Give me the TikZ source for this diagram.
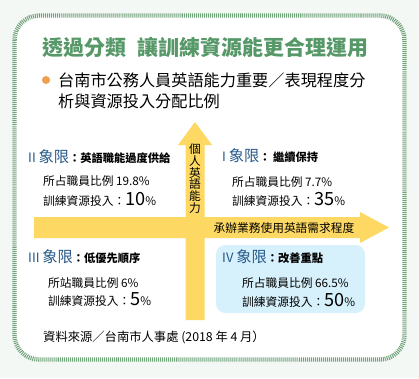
\documentclass[tikz,border=0pt]{standalone}
\usepackage{fontspec}
\setmainfont{Noto Sans CJK TC}
\usepackage{xcolor}
\usepackage{tikz}
\usetikzlibrary{positioning}
\definecolor{bgmint}{RGB}{243, 248, 245}
\definecolor{framegreen}{RGB}{112, 162, 122}
\definecolor{titlegreen}{RGB}{86, 152, 104}
\definecolor{quadblue}{RGB}{38, 88, 138}
\definecolor{axisyellow}{RGB}{253, 216, 98}
\definecolor{boxblue}{RGB}{214, 241, 251}
\definecolor{dotorange}{RGB}{240, 160, 76}

\newcommand{\bignum}[1]{{\fontsize{15.5}{15.5}\selectfont #1}}
\newcommand{\quadname}[1]{{\color{quadblue}\fontsize{11}{11}\selectfont #1\ \fontsize{13}{13}\selectfont 象限}}

\begin{document}
\begin{tikzpicture}[x=0.03cm, y=-0.03cm,
    qhead/.style={anchor=west, inner sep=0pt},
    qbody/.style={anchor=west, inner sep=0pt, font=\fontsize{10}{11}\selectfont},
    qnote/.style={font=\bfseries\fontsize{9.6}{10}\selectfont}]
    % Background and frame
    \fill[bgmint] (0,0) rectangle (419,378);
    \fill[white, rounded corners=21pt] (14.5,15.5) rectangle (404.5,359.5);
    \draw[framegreen, line width=3.8pt, dash pattern=on 0.85pt off 0.85pt, rounded corners=21pt] (14.5,15.5) rectangle (404.5,359.5);

    % Title
    \node[anchor=west, inner sep=0pt, titlegreen, font=\bfseries\fontsize{17.9}{18}\selectfont] (title) at (42,47) {透過分類\hspace{0.55em}讓訓練資源能更合理運用};
    \fill[dotorange] (46,80) circle (4);
    \node[anchor=west, inner sep=0pt, align=left, font=\fontsize{13.8}{17.9}\selectfont] (subtitle) at (58,90.5) {台南市公務人員英語能力重要／表現程度分\\析與資源投入分配比例};

    % The Axes
    \fill[axisyellow] (185.5,320) -- (185.5,145) -- (178,145) -- (195,122) -- (212,145) -- (204.5,145) -- (204.5,320) -- cycle;
    \fill[axisyellow] (34,217) -- (360,217) -- (360,212) -- (389,227.5) -- (360,243) -- (360,238) -- (34,238) -- cycle;
    \node[align=center, inner sep=0pt, font=\fontsize{10}{10}\selectfont] (ylabel) at (195,178.5) {個\\人\\英\\語\\能\\力};
    \node[inner sep=0pt, font=\fontsize{10}{11}\selectfont] (xlabel) at (284,228) {承辦業務使用英語需求程度};

    % Quadrant IV box
    \fill[boxblue, rounded corners=8pt] (216,245) rectangle (365,313);

    % Quadrant II
    \node[qhead] (q2head) at (28,157) {\quadname{II}{\bfseries\fontsize{9.6}{10}\selectfont ：英語職能過度供給}};
    \node[qbody] (q2share) at (43,181) {所占職員比例 19.8\%};
    \node[qbody] (q2fund) at (43,199) {訓練資源投入：\bignum{10}\%};

    % Quadrant I
    \node[qhead] (q1head) at (222,156) {\quadname{I}{\bfseries\fontsize{9.6}{10}\selectfont ： 繼續保持}};
    \node[qbody] (q1share) at (232,182) {所占職員比例 7.7\%};
    \node[qbody] (q1fund) at (232,199) {訓練資源投入：\bignum{35}\%};

    % Quadrant III
    \node[qhead] (q3head) at (28,257) {\quadname{III}{\bfseries\fontsize{9.6}{10}\selectfont ：低優先順序}};
    \node[qbody] (q3share) at (48,283) {所站職員比例 6\%};
    \node[qbody] (q3fund) at (48,300) {訓練資源投入：\bignum{5}\%};

    % Quadrant IV
    \node[qhead] (q4head) at (222,257) {\quadname{IV}{\bfseries\fontsize{9.6}{10}\selectfont ：改善重點}};
    \node[qbody] (q4share) at (242,283) {所占職員比例 66.5\%};
    \node[qbody] (q4fund) at (242,300) {訓練資源投入：\bignum{50}\%};

    % Source
    \node[anchor=west, inner sep=0pt, font=\fontsize{10.5}{11}\selectfont] (source) at (43,337) {資料來源／台南市人事處 (2018 年 4 月）};
\end{tikzpicture}
\end{document}
